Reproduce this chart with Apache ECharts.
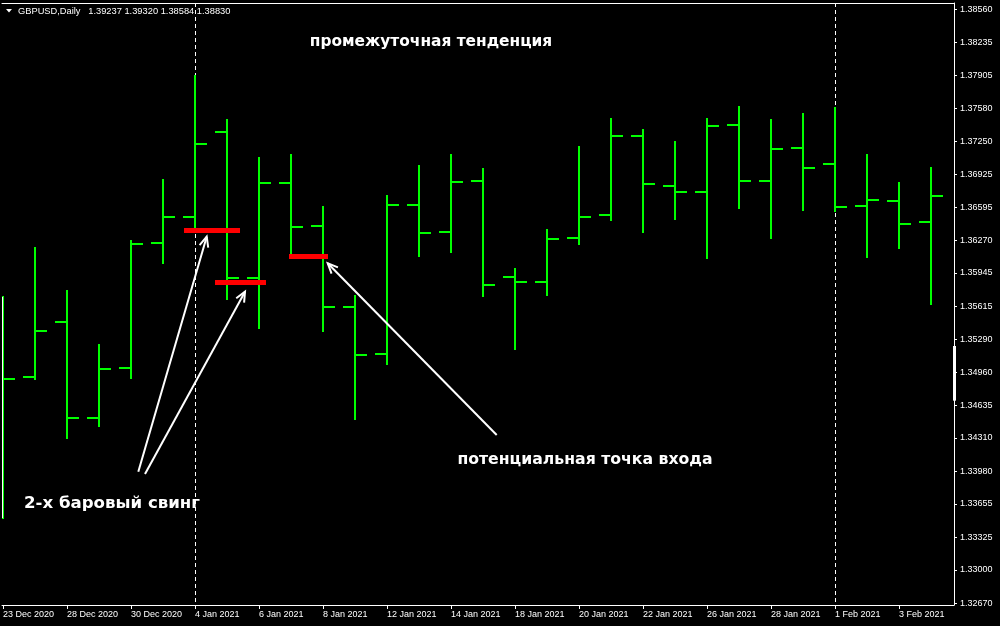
<!DOCTYPE html>
<html>
<head>
<meta charset="utf-8">
<script src="https://cdn.jsdelivr.net/npm/echarts@6/dist/echarts.min.js"></script>
<style>
html,body{margin:0;padding:0;background:#000;}
#chart{width:1000px;height:626px;}
</style>
</head>
<body>
<div id="chart"></div>
<script>
// ---- data ----
const dates = ['23 Dec 2020','24 Dec 2020','28 Dec 2020','29 Dec 2020','30 Dec 2020','31 Dec 2020','4 Jan 2021','5 Jan 2021','6 Jan 2021','7 Jan 2021','8 Jan 2021','11 Jan 2021','12 Jan 2021','13 Jan 2021','14 Jan 2021','15 Jan 2021','18 Jan 2021','19 Jan 2021','20 Jan 2021','21 Jan 2021','22 Jan 2021','25 Jan 2021','26 Jan 2021','27 Jan 2021','28 Jan 2021','29 Jan 2021','1 Feb 2021','2 Feb 2021','3 Feb 2021','4 Feb 2021'];
const open  = [1.35000,1.34917,1.35459,1.34510,1.35003,1.36246,1.36503,1.37346,1.35899,1.36838,1.36414,1.35611,1.35145,1.36622,1.36355,1.36860,1.35909,1.35856,1.36295,1.36523,1.37307,1.36811,1.36751,1.37416,1.36860,1.37188,1.37029,1.36613,1.36662,1.36454];
const high  = [1.35710,1.36190,1.35767,1.35231,1.36263,1.36867,1.37902,1.37462,1.37083,1.37112,1.36600,1.35720,1.36709,1.37006,1.37115,1.36976,1.35985,1.36372,1.37195,1.37472,1.37363,1.37244,1.37472,1.37591,1.37462,1.37522,1.37581,1.37115,1.36838,1.36986];
const low   = [1.33516,1.34891,1.34309,1.34431,1.34901,1.36041,1.36362,1.35684,1.35397,1.36107,1.35373,1.34501,1.35040,1.36117,1.36156,1.35720,1.35192,1.35730,1.36236,1.36474,1.36355,1.36484,1.36097,1.36593,1.36295,1.36573,1.36563,1.36107,1.36196,1.35641];
const close = [1.34894,1.35373,1.34510,1.34993,1.36236,1.36503,1.37227,1.35899,1.36838,1.36404,1.35608,1.35132,1.36622,1.36345,1.36848,1.35829,1.35856,1.36285,1.36503,1.37307,1.36831,1.36751,1.37406,1.36860,1.37178,1.36989,1.36603,1.36672,1.36434,1.36712];

const priceTicks = [1.32670,1.33000,1.33325,1.33655,1.33980,1.34310,1.34635,1.34960,1.35290,1.35615,1.35945,1.36270,1.36595,1.36925,1.37250,1.37580,1.37905,1.38235,1.38560];
const dateTickIdx = [0,2,4,6,8,10,12,14,16,18,20,22,24,26,28];
const separatorIdx = [6,26];

// red levels (bar index range, price)
const redStart = [5.656, 6.625, 8.9375];
const redEnd   = [7.406, 8.219, 10.156];
const redPrice = [1.36367, 1.35851, 1.36109];

// arrows (tail -> tip) in index / price units
const arrowFromX = [4.228, 4.4375, 15.428];
const arrowFromY = [1.33975, 1.33952, 1.34339];
const arrowToX   = [6.366, 7.5625, 10.147];
const arrowToY   = [1.36305, 1.35760, 1.36041];

// white scale marker on price axis
const scaleMark = [1.34679, 1.35221];

const header = 'GBPUSD,Daily   1.39237 1.39320 1.38584 1.38830';
const noteTrend = 'промежуточная тенденция';
const noteEntry = 'потенциальная точка входа';
const noteSwing = '2-х баровый свинг';

// ---- chart ----
const X_MIN = -0.03125, X_MAX = 29.71875;
const Y_MIN = 1.32653, Y_MAX = 1.38622;
const GREEN = '#00ff00';
const AXIS_FONT = 'Liberation Sans';

const ohlc = dates.map((d, i) => [i, open[i], high[i], low[i], close[i]]);
const reds = redPrice.map((p, i) => [redStart[i], p, redEnd[i], p]);
const arrows = arrowFromX.map((x, i) => [x, arrowFromY[i], arrowToX[i], arrowToY[i]]);

const chart = echarts.init(document.getElementById('chart'), null, {renderer: 'canvas'});

const option = {
  backgroundColor: '#000000',
  animation: false,
  grid: {left: 2, right: 46, top: 3, bottom: 21, containLabel: false},
  xAxis: [{
    type: 'value', min: X_MIN, max: X_MAX, position: 'bottom',
    axisLine: {show: true, onZero: false, lineStyle: {color: '#ffffff', width: 1}},
    axisTick: {show: true, customValues: dateTickIdx, length: 4, lineStyle: {color: '#ffffff'}},
    axisLabel: {show: true, customValues: dateTickIdx, formatter: v => dates[Math.round(v)] || '',
      color: '#ffffff', fontFamily: AXIS_FONT, fontSize: 9, align: 'left', margin: 5},
    splitLine: {show: false}
  }, {
    type: 'value', min: X_MIN, max: X_MAX, position: 'top',
    axisLine: {show: true, onZero: false, lineStyle: {color: '#ffffff', width: 1}},
    axisTick: {show: false}, axisLabel: {show: false}, splitLine: {show: false}
  }],
  yAxis: {
    type: 'value', min: Y_MIN, max: Y_MAX, position: 'right', scale: true,
    axisLine: {show: true, onZero: false, lineStyle: {color: '#ffffff', width: 1}},
    axisTick: {show: true, customValues: priceTicks, length: 3, lineStyle: {color: '#ffffff'}},
    axisLabel: {show: true, customValues: priceTicks, formatter: v => v.toFixed(5),
      color: '#ffffff', fontFamily: AXIS_FONT, fontSize: 9, margin: 6},
    splitLine: {show: false}
  },
  series: [
    { // period separators
      type: 'custom', z: 1, silent: true,
      data: separatorIdx.map(i => [i]),
      encode: {x: 0},
      renderItem: function (params, api) {
        const cs = params.coordSys;
        const x = Math.round(api.coord([api.value(0), Y_MIN])[0]) + 0.5;
        return {type: 'line', shape: {x1: x, y1: cs.y, x2: x, y2: cs.y + cs.height},
          style: {stroke: '#ffffff', lineWidth: 1, lineDash: [4, 3]}};
      }
    },
    { // OHLC bars
      type: 'custom', z: 2, silent: true, clip: true,
      data: ohlc,
      encode: {x: 0, y: [1, 2, 3, 4]},
      renderItem: function (params, api) {
        const i = api.value(0);
        const xo = api.coord([i, api.value(1)]);
        const xh = api.coord([i, api.value(2)]);
        const xl = api.coord([i, api.value(3)]);
        const xc = api.coord([i, api.value(4)]);
        const w = Math.round(api.size([0.375, 0])[0]);
        const x = Math.round(xh[0]);
        const st = {stroke: GREEN, lineWidth: 2};
        const yo = Math.round(xo[1]), yc = Math.round(xc[1]);
        const ch = [
          {type: 'line', shape: {x1: x, y1: Math.round(xh[1]) - 1, x2: x, y2: Math.round(xl[1]) + 1}, style: st},
          {type: 'line', shape: {x1: x - w, y1: yo, x2: x, y2: yo}, style: st},
          {type: 'line', shape: {x1: x, y1: yc, x2: x + w, y2: yc}, style: st}
        ];
        if (params.dataIndex === 0) {
          ch.push({type: 'line', shape: {x1: x - 0.5, y1: Math.round(xh[1]), x2: x - 0.5, y2: Math.round(xl[1])},
            style: {stroke: '#ffffff', lineWidth: 1}});
        }
        return {type: 'group', children: ch};
      }
    },
    { // red levels
      type: 'custom', z: 3, silent: true,
      data: reds,
      encode: {x: [0, 2], y: [1, 3]},
      renderItem: function (params, api) {
        const a = api.coord([api.value(0), api.value(1)]);
        const b = api.coord([api.value(2), api.value(3)]);
        const y = Math.round(a[1]) + 0.5;
        return {type: 'line', shape: {x1: Math.round(a[0]), y1: y, x2: Math.round(b[0]), y2: y},
          style: {stroke: '#ff0000', lineWidth: 5}};
      }
    },
    { // arrows
      type: 'custom', z: 4, silent: true,
      data: arrows,
      encode: {x: [0, 2], y: [1, 3]},
      renderItem: function (params, api) {
        const a = api.coord([api.value(0), api.value(1)]);
        const b = api.coord([api.value(2), api.value(3)]);
        const ang = Math.atan2(b[1] - a[1], b[0] - a[0]);
        const L = 11, spread = 0.42;
        const p1 = [b[0] - L * Math.cos(ang - spread), b[1] - L * Math.sin(ang - spread)];
        const p2 = [b[0] - L * Math.cos(ang + spread), b[1] - L * Math.sin(ang + spread)];
        const st = {stroke: '#ffffff', lineWidth: 2, fill: null};
        return {type: 'group', children: [
          {type: 'line', shape: {x1: a[0], y1: a[1], x2: b[0], y2: b[1]}, style: st},
          {type: 'polyline', shape: {points: [p1, b, p2]}, style: st}
        ]};
      }
    },
    { // white marker on the price scale
      type: 'custom', z: 5, silent: true,
      data: [scaleMark],
      encode: {y: [0, 1]},
      renderItem: function (params, api) {
        const cs = params.coordSys;
        const a = api.coord([X_MAX, api.value(0)]);
        const b = api.coord([X_MAX, api.value(1)]);
        const x = cs.x + cs.width + 0.5;
        return {type: 'line', shape: {x1: x, y1: a[1], x2: x, y2: b[1]},
          style: {stroke: '#ffffff', lineWidth: 3}};
      }
    }
  ],
  graphic: [
    {type: 'polygon', shape: {points: [[6, 9], [12, 9], [9, 12.5]]}, style: {fill: '#ffffff'}},
    {type: 'text', x: 18, y: 11, style: {text: header, font: '9.3px "Liberation Sans"', fill: '#ffffff', align: 'left', verticalAlign: 'middle'}},
    {type: 'text', x: 431, y: 42, style: {text: noteTrend, font: 'bold 15.4px "DejaVu Sans"', fill: '#ffffff', align: 'center', verticalAlign: 'middle'}},
    {type: 'text', x: 585, y: 460, style: {text: noteEntry, font: 'bold 15.7px "DejaVu Sans"', fill: '#ffffff', align: 'center', verticalAlign: 'middle'}},
    {type: 'text', x: 112, y: 504, style: {text: noteSwing, font: 'bold 16.6px "DejaVu Sans"', fill: '#ffffff', align: 'center', verticalAlign: 'middle'}}
  ]
};
chart.setOption(option);
</script>
</body>
</html>
